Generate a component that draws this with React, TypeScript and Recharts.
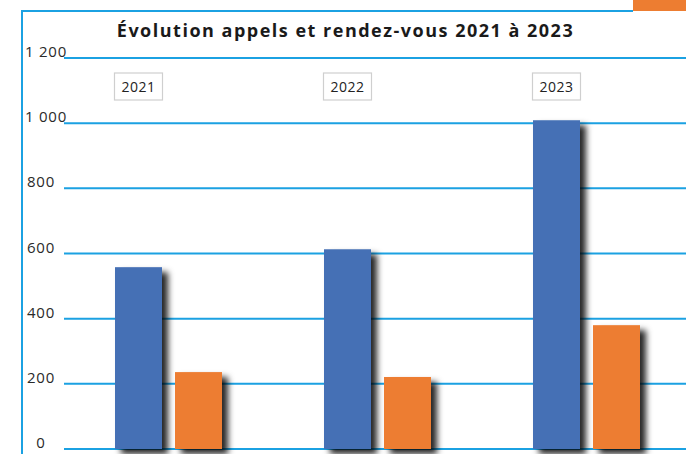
import { BarChart, Bar, XAxis, YAxis, CartesianGrid, LabelList } from "recharts"

const years = ["2021", "2022", "2023"]
const appels = [558, 613, 1009]
const rendezVous = [236, 221, 380]
const yTicks = [0, 200, 400, 600, 800, 1000, 1200]

const data = years.map((year, i) => ({
  year,
  appels: appels[i],
  rendezVous: rendezVous[i]
}))

const fmt = (v: number) => (v >= 1000 ? `${Math.floor(v / 1000)} ${String(v % 1000).padStart(3, "0")}` : String(v))

function YTick({ y, payload }: any) {
  const big = payload.value >= 1000
  return (
    <text
      x={big ? 46 : 41}
      y={y - 1}
      textAnchor="middle"
      fontSize={15}
      letterSpacing={0.8}
      fill="#2a2a2a"
      fontFamily="'Open Sans', sans-serif"
    >
      {fmt(payload.value)}
    </text>
  )
}

function ShadowBar({ x, y, width, height, fill }: any) {
  return <rect x={x} y={y} width={width} height={height} fill={fill} filter="url(#barShadow)" />
}

function YearBox({ x, width, value }: any) {
  const cx = x + width / 2
  return (
    <g>
      <rect x={cx - 24} y={73} width={48} height={27} fill="#fff" stroke="#cfcfcf" strokeWidth={1.2} />
      <text x={cx} y={92} textAnchor="middle" fontSize={14} letterSpacing={0.5} fill="#222" fontFamily="'Open Sans', sans-serif">
        {value}
      </text>
    </g>
  )
}

export default function App() {
  return (
    <div style={{ position: "absolute", left: 0, top: 0, width: 686, height: 454, overflow: "hidden", background: "#fff" }}>
      <svg width={0} height={0} style={{ position: "absolute" }}>
        <defs>
          <filter id="barShadow" x="-30%" y="-10%" width="180%" height="130%">
            <feDropShadow dx={6} dy={5} stdDeviation={3} floodColor="#000" floodOpacity={0.85} />
          </filter>
        </defs>
      </svg>
      <div style={{ position: "absolute", left: 21, top: 10, width: 612, height: 2, background: "#1ba1e2" }} />
      <div style={{ position: "absolute", left: 21, top: 10, width: 2, height: 444, background: "#1ba1e2" }} />
      <div style={{ position: "absolute", left: 633, top: 0, width: 53, height: 11, background: "#ED7D31" }} />
      <div
        style={{
          position: "absolute",
          left: 0,
          top: 18,
          width: 691,
          textAlign: "center",
          fontFamily: "'Open Sans', sans-serif",
          fontWeight: 700,
          fontSize: 18,
          letterSpacing: 1.5,
          color: "#1a1a1a"
        }}
      >
        Évolution appels et rendez-vous 2021 à 2023
      </div>
      <div style={{ position: "absolute", left: 0, top: 0 }}>
        <BarChart width={700} height={454} data={data} margin={{ top: 58, right: 9, bottom: 5, left: 0 }} barSize={47} barGap={13}>
          <CartesianGrid vertical={false} stroke="#1ba1e2" strokeWidth={2} />
          <XAxis dataKey="year" hide height={0} />
          <YAxis
            width={64}
            domain={[0, 1200]}
            ticks={yTicks}
            axisLine={false}
            tickLine={false}
            tick={<YTick />}
            interval={0}
          />
          <Bar dataKey="appels" fill="#4470B5" isAnimationActive={false} shape={<ShadowBar />}>
            <LabelList dataKey="year" content={<YearBox />} />
          </Bar>
          <Bar dataKey="rendezVous" fill="#ED7D31" isAnimationActive={false} shape={<ShadowBar />} />
        </BarChart>
      </div>
    </div>
  )
}
